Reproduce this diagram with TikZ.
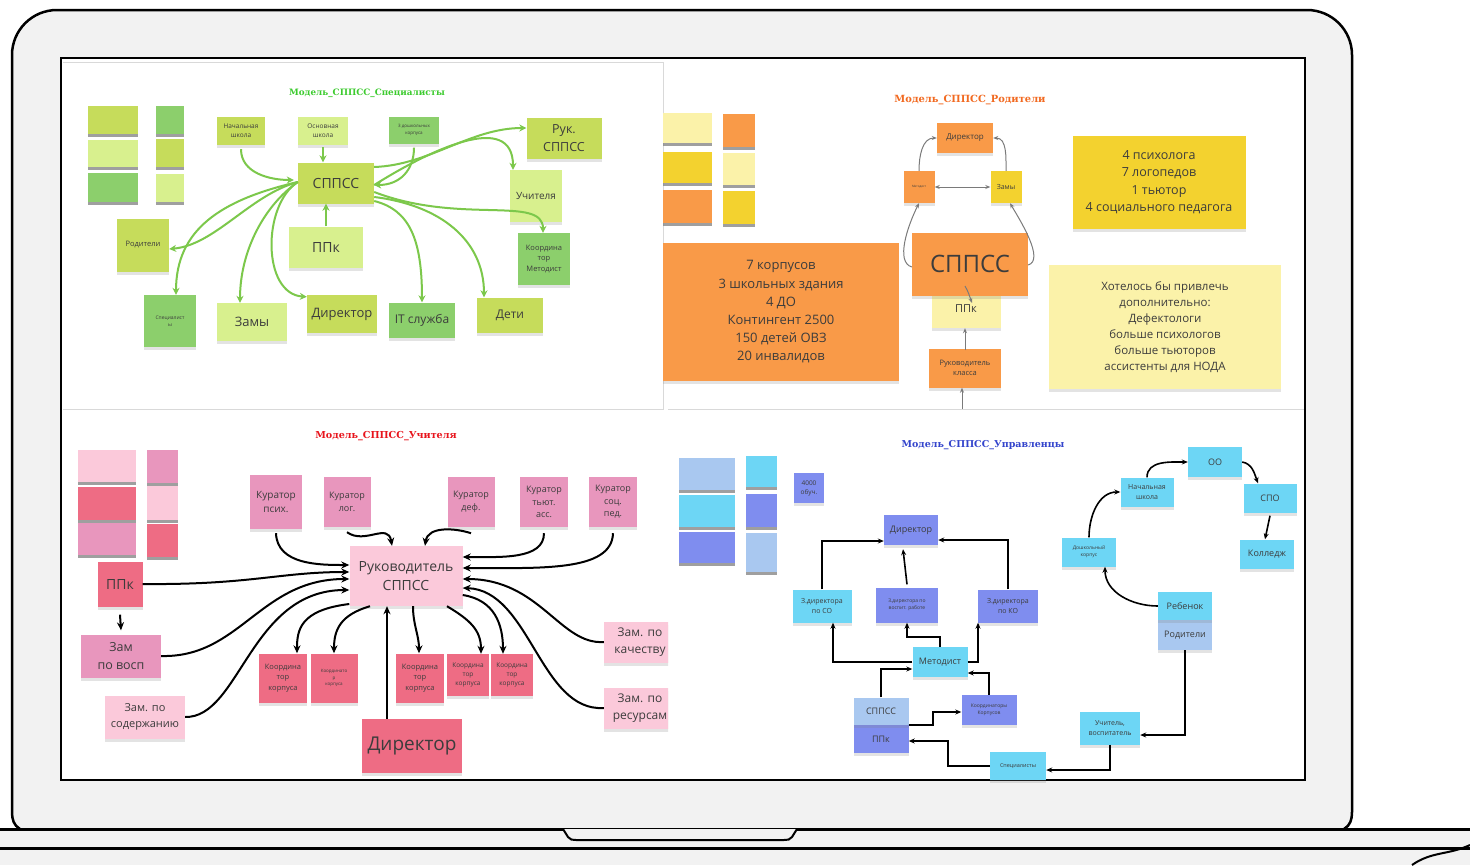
\documentclass[tikz,border=0pt]{standalone}
\usepackage{fontspec}
\setmainfont{Open Sans}
\newfontfamily\ttlfont{DejaVu Serif}
\usetikzlibrary{arrows.meta,shadows}
\definecolor{lidgray}{HTML}{F2F2F2}
\definecolor{txt}{HTML}{3C3C3C}
\definecolor{gA}{HTML}{C6DC5B}
\definecolor{gB}{HTML}{D8F08E}
\definecolor{gC}{HTML}{8CCF6C}
\definecolor{garrc}{HTML}{7CC84B}
\definecolor{oA}{HTML}{F99A48}
\definecolor{oY}{HTML}{F3D22F}
\definecolor{oP}{HTML}{FBF2A9}
\definecolor{pA}{HTML}{FBC9DA}
\definecolor{pB}{HTML}{E896BD}
\definecolor{pC}{HTML}{EE6C84}
\definecolor{bA}{HTML}{6DD6F5}
\definecolor{bB}{HTML}{7F8DEF}
\definecolor{bC}{HTML}{A9C8F0}
\definecolor{agray}{HTML}{7A7A7A}
\definecolor{tgreen}{HTML}{3CCB2E}
\definecolor{torange}{HTML}{F26A21}
\definecolor{tred}{HTML}{E8141C}
\definecolor{tblue}{HTML}{3344CC}
\tikzset{
  stk/.style={rectangle, inner sep=1pt, align=center, text=txt,
    drop shadow={shadow xshift=0pt, shadow yshift=-3pt, opacity=.22}},
  sw/.style={drop shadow={shadow xshift=0pt, shadow yshift=-2.5pt, opacity=.75}},
  ttl/.style={inner sep=0pt, font=\ttlfont\bfseries\fontsize{#1}{#1}\selectfont},
  garr/.style={draw=garrc, line width=2pt, -{Stealth[length=7pt,width=7pt]}},
  oarr/.style={draw=agray, line width=1pt, -{Stealth[length=5pt,width=4pt]}},
  oboth/.style={draw=agray, line width=1pt, {Stealth[length=5pt,width=4pt]}-{Stealth[length=5pt,width=4pt]}},
  parr/.style={draw=black, line width=2pt, -{Stealth[length=8pt,width=7pt]}},
  barr/.style={draw=black, line width=1.6pt, -{Stealth[length=6pt,width=5pt]}},
  lidline/.style={draw=black, line width=2.5pt}
}
\newcommand\stick[8]{\pgfmathsetmacro\lskip{#7*1.4}\node[stk,fill=#6,minimum width=#4,minimum height=#5,font=\fontsize{#7}{\lskip}\selectfont] (#1) at (#2,-#3) {#8};}
\newcommand\swatch[5]{\fill[sw,fill=#5] (#1,-#2) rectangle (#3,-#4);}
\begin{document}
\begin{tikzpicture}[x=1pt,y=1pt]
\useasboundingbox (0,0) rectangle (1470,-865);
% ---------- laptop ----------
\fill[lidgray] (0,-829) rectangle (1470,-865);
\path[lidline, fill=lidgray] (20,-829) to[out=150,in=-90] (12,-812) -- (12,-55) arc[start angle=180,end angle=90,radius=45] -- (1307,-10) arc[start angle=90,end angle=0,radius=45] -- (1352,-812) to[out=-90,in=30] (1344,-829);
\draw[line width=3pt] (0,-829) -- (1470,-829);
\draw[line width=3pt] (0,-848) -- (1470,-848);
\draw[line width=2pt, fill=lidgray] (563,-829) -- (568,-837) to[out=-60,in=180] (576,-840) -- (784,-840) to[out=0,in=-120] (792,-837) -- (797,-829);
\draw[line width=2pt] (1470,-845) to[out=205,in=35] (1412,-865);
\draw[line width=2.5pt, fill=white] (61,-58) rectangle (1305,-780);
\draw[black!15, line width=1pt] (63,-62) -- (663,-62) -- (663,-409) -- (63,-409);
\draw[black!15, line width=1pt] (668,-409) -- (1304,-409);

% ================= Q1 green =================
\node[ttl=8.8, text=tgreen] (t1) at (367,-93) {Модель\_СППСС\_Специалисты};
\swatch{88}{106}{138}{134}{gA}
\swatch{88}{140}{138}{167}{gB}
\swatch{88}{173}{138}{202}{gC}
\swatch{156}{106}{184}{134}{gC}
\swatch{156}{139}{184}{167}{gA}
\swatch{156}{174}{184}{202}{gB}
\stick{nsh}{241}{131}{48}{28}{gA}{6.5}{Начальная\\школа}
\stick{osh}{323}{131}{50}{28}{gB}{6.5}{Основная\\школа}
\stick{dk3}{414}{130}{50}{27}{gC}{4.5}{3 дошкольных\\корпуса}
\stick{gs}{336}{183}{76}{41}{gA}{14}{СППСС}
\stick{ruk}{564}{138}{75}{41}{gA}{12.5}{Рук.\\СППСС}
\stick{uch}{536}{196}{52}{52}{gB}{10}{Учителя}
\stick{koord}{544}{259}{52}{52}{gC}{7.5}{Координа\\тор\\Методист}
\stick{gppk}{326}{247}{74}{41}{gB}{14}{ППк}
\stick{rod}{143}{245}{52}{53}{gA}{7.5}{Родители}
\stick{spec}{170}{321}{52}{52}{gC}{5}{Специалист\\ы}
\stick{zamy}{252}{322}{70}{38}{gB}{13}{Замы}
\stick{dir}{342}{314}{70}{38}{gA}{13}{Директор}
\stick{it}{422}{320}{66}{35}{gC}{12}{IT служба}
\stick{deti}{510}{315}{66}{35}{gA}{12}{Дети}
\draw[garr] ([yshift=-4]nsh.south) to[out=-90,in=180] ([xshift=-4,yshift=3]gs.west);
\draw[garr] ([yshift=-2]osh.south) -- (osh.south |- gs.north);
\draw[garr] (gppk.north) -- (gppk.north |- gs.south);
\draw[garr] ([yshift=16]gs.east) .. controls (430,-165) and (470,-128) .. ([yshift=10]ruk.west);
\draw[garr] ([yshift=-4]dk3.south) .. controls (414,-170) and (400,-185) .. ([yshift=-2]gs.east);
\draw[garr] ([yshift=-2]gs.east) .. controls (430,-150) and (513,-110) .. ([xshift=-23]uch.north);
\draw[garr] ([yshift=-9]gs.east) .. controls (460,-225) and (543,-195) .. ([xshift=-1]koord.north);
\draw[garr] ([yshift=-14]gs.east) .. controls (440,-205) and (484,-240) .. ([xshift=-26]deti.north);
\draw[garr] ([yshift=-18]gs.east) .. controls (410,-210) and (422,-240) .. (it.north);
\draw[garr] ([yshift=1]gs.west) .. controls (250,-195) and (215,-245) .. ([yshift=-4]rod.east);
\draw[garr] ([yshift=1]gs.west) .. controls (220,-200) and (176,-230) .. ([xshift=6]spec.north);
\draw[garr] ([yshift=1]gs.west) .. controls (265,-205) and (240,-250) .. ([xshift=-12]zamy.north);
\draw[garr] ([yshift=1]gs.west) .. controls (262,-205) and (262,-294) .. ([yshift=-2]dir.north west);

% ================= Q2 orange =================
\node[ttl=9.9, text=torange] (t2) at (970,-100) {Модель\_СППСС\_Родители};
\swatch{663}{113}{712}{143}{oP}
\swatch{663}{152}{712}{183}{oY}
\swatch{663}{190}{712}{223}{oA}
\swatch{723}{114}{755}{147}{oA}
\swatch{723}{153}{755}{185}{oP}
\swatch{723}{191}{755}{224}{oY}
\stick{obig}{781}{312}{236}{138}{oA}{13}{7 корпусов\\3 школьных здания\\4 ДО\\Контингент 2500\\150 детей ОВЗ\\20 инвалидов}
\stick{odir}{965}{138}{56}{30}{oA}{8}{Директор}
\stick{ometod}{919}{187}{31}{32}{oA}{3}{Методист}
\stick{ozamy}{1006}{187}{31}{32}{oY}{7}{Замы}
\stick{oppk}{966}{309}{69}{38}{oP}{11}{ППк}
\stick{osppss}{970}{264}{116}{63}{oA}{24}{СППСС}
\stick{oruk}{965}{368}{72}{39}{oA}{7.5}{Руководитель\\класса}
\stick{opsy}{1159}{182}{173}{93}{oY}{12.5}{4 психолога\\7 логопедов\\1 тьютор\\4 социального педагога}
\stick{owant}{1165}{327}{232}{124}{oP}{11.5}{Хотелось бы привлечь\\дополнительно:\\Дефектологи\\больше психологов\\больше тьюторов\\ассистенты для НОДА}
\draw[oboth] (ometod.east) -- (ozamy.west);
\draw[oarr] (ometod.north) to[out=90,in=180] (odir.west);
\draw[oarr] (ozamy.north) to[out=90,in=0] (odir.east);
\draw[oarr] ([yshift=-3]osppss.west) .. controls (895,-262) and (908,-225) .. (ometod.south);
\draw[oarr] ([yshift=-1]osppss.east) .. controls (1045,-260) and (1020,-220) .. ([xshift=4]ozamy.south);
\draw[oarr] ([xshift=-5,yshift=-22]osppss.center) to[out=-60,in=110] ([xshift=6,yshift=6]oppk.center);
\draw[oarr] ([yshift=-2]oruk.north) -- (oruk.north |- oppk.south);
\coordinate (obot) at (962,-409);
\draw[oarr] (obot) -- (obot |- oruk.south);

% ================= Q3 pink =================
\node[ttl=9.6, text=tred] (t3) at (386,-436) {Модель\_СППСС\_Учителя};
\swatch{78}{450}{136}{482}{pA}
\swatch{78}{487}{136}{520}{pC}
\swatch{78}{523}{136}{555}{pB}
\swatch{147}{450}{178}{483}{pB}
\swatch{147}{486}{178}{520}{pA}
\swatch{147}{524}{178}{557}{pC}
\stick{pppk}{120}{584}{45}{45}{pC}{14}{ППк}
\stick{pzv}{121}{656}{80}{43}{pB}{12.5}{Зам\\по восп}
\stick{pzs}{145}{717}{80}{43}{pA}{11}{Зам. по\\содержанию}
\stick{kp}{276}{502}{52}{54}{pB}{10}{Куратор\\псих.}
\stick{kl}{347}{502}{47}{50}{pB}{9}{Куратор\\лог.}
\stick{kd}{471}{502}{47}{50}{pB}{9}{Куратор\\деф.}
\stick{kt}{544}{502}{48}{50}{pB}{9}{Куратор\\тьют.\\асс.}
\stick{ks}{613}{502}{48}{50}{pB}{9}{Куратор\\соц.\\пед.}
\stick{prk}{406}{576}{113}{60}{pA}{14}{Руководитель\\СППСС}
\stick{pk1}{283}{678}{48}{49}{pC}{7.5}{Координа\\тор\\корпуса}
\stick{pk2}{334}{678}{47}{49}{pC}{4.5}{Координато\\р\\корпуса}
\stick{pk3}{420}{678}{48}{49}{pC}{7.5}{Координа\\тор\\корпуса}
\stick{pk4}{468}{675}{42}{42}{pC}{6.5}{Координа\\тор\\корпуса}
\stick{pk5}{512}{675}{42}{42}{pC}{6.5}{Координа\\тор\\корпуса}
\stick{pdir}{412}{746}{100}{54}{pC}{19}{Директор}
\begin{scope}
\clip (560,-600) rectangle (668,-760);
\stick{pzk}{640}{642}{72}{41}{pA}{12}{Зам. по\\качеству}
\stick{pzr}{640}{708}{72}{41}{pA}{12}{Зам. по\\ресурсам}
\end{scope}
\draw[parr] ([yshift=-4]kp.south) .. controls (277,-565) and (320,-565) .. ([yshift=11]prk.west);
\draw[parr] (pppk.east) .. controls (250,-585) and (280,-572) .. ([yshift=4]prk.west);
\draw[parr] (pzv.east) .. controls (240,-658) and (260,-579) .. ([yshift=-3]prk.west);
\draw[parr] (pzs.east) .. controls (240,-718) and (250,-590) .. ([yshift=-14]prk.west);
\draw[parr] ([yshift=-5]kl.south) .. controls (365,-545) and (388,-522) .. ([xshift=-14]prk.north);
\draw[parr] ([yshift=-6]kd.south) .. controls (455,-528) and (428,-526) .. ([xshift=19]prk.north);
\draw[parr] ([yshift=-6]kt.south) .. controls (544,-560) and (500,-557) .. ([yshift=19]prk.east);
\draw[parr] ([yshift=-6]ks.south) .. controls (612,-572) and (540,-568) .. ([yshift=8]prk.east);
\draw[parr] (pzk.west) .. controls (560,-645) and (540,-579) .. ([yshift=-3]prk.east);
\draw[parr] (pzr.west) .. controls (540,-712) and (530,-590) .. ([yshift=-12]prk.east);
\draw[parr] ([xshift=-25]pdir.north) -- ([xshift=-19]prk.south);
\draw[parr] ([yshift=-28]prk.west) .. controls (300,-610) and (297,-630) .. ([xshift=14]pk1.north);
\draw[parr] ([xshift=-36]prk.south) .. controls (340,-615) and (334,-630) .. (pk2.north);
\draw[parr] ([xshift=7]prk.south) .. controls (413,-625) and (419,-635) .. ([xshift=-1]pk3.north);
\draw[parr] ([xshift=41]prk.south) .. controls (470,-620) and (481,-630) .. ([xshift=13]pk4.north);
\draw[parr] ([yshift=-19]prk.east) .. controls (495,-600) and (503,-625) .. ([xshift=-9]pk5.north);
\draw[parr] ([yshift=-8]pppk.south) -- ([yshift=4]pzv.north);

% ================= Q4 blue =================
\node[ttl=9.5, text=tblue] (t4) at (983,-445) {Модель\_СППСС\_Управленцы};
\swatch{679}{458}{735}{490}{bC}
\swatch{679}{495}{735}{527}{bA}
\swatch{679}{532}{735}{563}{bB}
\swatch{746}{456}{777}{487}{bA}
\swatch{746}{494}{777}{527}{bB}
\swatch{746}{533}{777}{572}{bC}
\stick{b4000}{809}{488}{30}{30}{bB}{6.5}{4000\\обуч.}
\stick{bdir}{911}{530}{54}{30}{bB}{9}{Директор}
\stick{bso}{822}{606}{59}{33}{bA}{7}{З.директора\\по СО}
\stick{bvr}{907}{605}{62}{35}{bB}{5}{З.директора по\\воспит. работе}
\stick{bko}{1008}{606}{60}{33}{bB}{7}{З.директора\\по КО}
\stick{bmet}{940}{662}{55}{30}{bA}{9}{Методист}
\stick{bppk}{881}{739}{55}{28}{bB}{9}{ППк}
\stick{bsp}{881}{711}{55}{27}{bC}{9}{СППСС}
\stick{bkoor}{989}{710}{55}{30}{bB}{5}{Координаторы\\Корпусов}
\stick{bspec}{1018}{766}{56}{28}{bA}{5.5}{Специалисты}
\stick{buch}{1110}{728}{60}{33}{bA}{7}{Учитель,\\воспитатель}
\stick{brod}{1185}{635}{54}{30}{bC}{9}{Родители}
\stick{breb}{1185}{606}{54}{28}{bA}{9}{Ребенок}
\stick{bdosh}{1089}{552}{54}{29}{bA}{5}{Дошкольный\\корпус}
\stick{bnsh}{1147}{492}{53}{29}{bA}{7}{Начальная\\школа}
\stick{boo}{1215}{462}{54}{30}{bA}{9}{ОО}
\stick{bspo}{1270}{498}{53}{29}{bA}{9}{СПО}
\stick{bcol}{1267}{554}{54}{29}{bA}{9}{Колледж}
\draw[barr] (bso.north) |- ([yshift=-11]bdir.west);
\draw[barr] (bko.north) |- ([yshift=-10]bdir.east);
\draw[barr] ([yshift=3]bvr.north) -- ([xshift=-8,yshift=-4]bdir.south);
\draw[barr] (bmet.west) -| ([xshift=11]bso.south);
\draw[barr] (bmet.north) -- ++(0,10) -| (bvr.south);
\draw[barr] (bmet.east) -| ([xshift=-30]bko.south);
\draw[barr] (bsp.north) |- ([yshift=-7]bmet.west);
\draw[barr] (bkoor.north) |- ([yshift=-11]bmet.east);
\draw[barr] (bsp.south east) -- ++(24,0) |- ([yshift=-2]bkoor.west);
\draw[barr] (bspec.west) -- ++(-42,0) |- ([yshift=-2]bppk.east);
\draw[barr] (buch.south) |- ([yshift=-4]bspec.east);
\draw[barr] (brod.south) |- ([yshift=-7]buch.east);
\draw[barr] (breb.west) to[out=180,in=-90] ([xshift=16]bdosh.south);
\draw[barr] (bdosh.north) to[out=90,in=180] (bnsh.west);
\draw[barr] (bnsh.north) to[out=90,in=180] (boo.west);
\draw[barr] (boo.east) to[out=-10,in=110] ([xshift=-12]bspo.north);
\draw[barr] ([yshift=-3]bspo.south) -- ([xshift=-2]bcol.north);
\end{tikzpicture}
\end{document}
